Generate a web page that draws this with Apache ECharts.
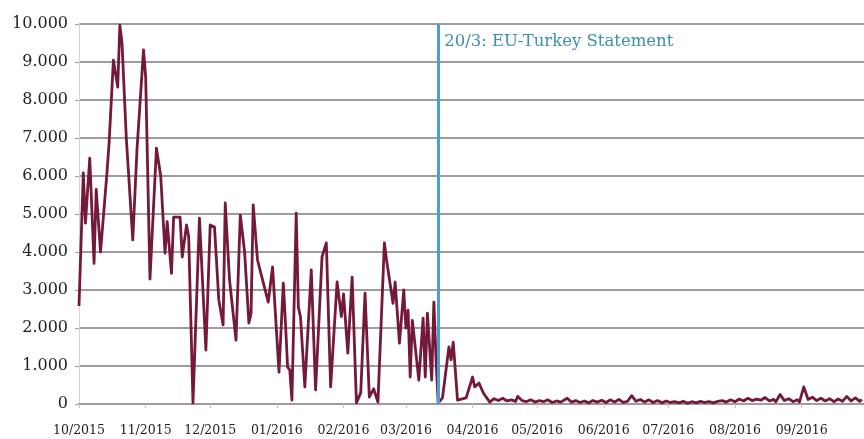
<!DOCTYPE html>
<html>
<head>
<meta charset="utf-8">
<script src="https://cdn.jsdelivr.net/npm/echarts@6/dist/echarts.min.js"></script>
<style>
  html, body { margin: 0; padding: 0; background: #fff; }
  #main { width: 864px; height: 439px; }
</style>
</head>
<body>
<div id="main"></div>
<script>
// days counted from 1 Oct 2015
var dayIndex = [
  0, 2, 3, 5, 7, 8, 10, 13, 14, 16, 18, 19, 20, 22, 25, 27, 30, 31, 33, 36,
  38, 40, 41, 43, 44, 47, 48, 50, 51, 53, 56, 59, 61, 63, 65, 67, 68, 70, 73, 75,
  77, 79, 80, 81, 83, 88, 90, 93, 95, 96, 97, 98, 99, 101, 102, 103, 105, 108, 110, 113,
  115, 117, 120, 122, 123, 125, 127, 129, 131, 133, 135, 137, 139, 142, 143, 146, 147, 149, 151, 152,
  153, 154, 155, 158, 160, 161, 162, 164, 165, 166, 167, 169, 172, 173, 174, 176, 180, 183, 184, 186,
  188, 191, 193, 195, 197, 199, 201, 203, 204, 206, 208, 210, 212, 214, 216, 218, 220, 222, 224, 227,
  229, 231, 233, 235, 237, 239, 241, 243, 245, 247, 249, 251, 253, 255, 257, 259, 261, 263, 265, 267,
  269, 271, 273, 275, 277, 279, 281, 283, 285, 287, 289, 291, 293, 295, 297, 299, 301, 303, 305, 307,
  309, 311, 313, 315, 317, 319, 321, 323, 324, 326, 328, 330, 332, 334, 335, 337, 339, 341, 343, 345,
  347, 349, 351, 353, 355, 357, 359, 361, 363, 364
];
var arrivals = [
  2580, 6080, 4760, 6470, 3700, 5650, 4000, 6080, 6870, 9050, 8340, 9970, 9500, 7000, 4320, 6730, 9320, 8600, 3290, 6730,
  6000, 3970, 4800, 3440, 4920, 4920, 3870, 4710, 4400, 30, 4890, 1420, 4710, 4660, 2740, 2080, 5290, 3260, 1680, 4970,
  4000, 2130, 2390, 5240, 3790, 2680, 3610, 840, 3180, 2130, 970, 900, 100, 5020, 2550, 2290, 450, 3530, 370, 3870,
  4240, 450, 3210, 2300, 2900, 1340, 3340, 30, 300, 2920, 180, 400, 50, 4240, 3790, 2650, 3210, 1600, 3000, 2000,
  2470, 710, 2200, 630, 2260, 710, 2390, 630, 2680, 1200, 30, 160, 1500, 1160, 1630, 100, 160, 710, 450, 550,
  290, 50, 140, 90, 150, 80, 110, 70, 200, 90, 60, 110, 50, 90, 60, 110, 40, 80, 50, 150,
  50, 90, 40, 80, 30, 90, 50, 100, 40, 110, 50, 120, 40, 70, 220, 70, 120, 50, 110, 40,
  90, 30, 80, 40, 60, 30, 70, 20, 60, 30, 70, 40, 60, 30, 70, 90, 50, 110, 60, 130,
  80, 150, 90, 130, 100, 170, 80, 120, 60, 250, 90, 140, 60, 110, 50, 450, 120, 180, 90, 150,
  80, 140, 60, 130, 70, 200, 80, 160, 70, 120
];
var yTicks = [0, 1000, 2000, 3000, 4000, 5000, 6000, 7000, 8000, 9000, 10000];
var statementDay = 167;   // where the blue line stands in the picture
var statementLabel = '20/3: EU-Turkey Statement';

function dayToDate(d) {
  return new Date(2015, 9, 1 + d);
}

var seriesData = dayIndex.map(function (d, i) {
  return [dayToDate(d), arrivals[i]];
});

var myChart = echarts.init(document.getElementById('main'));
var gridColor = '#a29b9b';

var option = {
  animation: false,
  backgroundColor: '#ffffff',
  grid: { left: 79, right: 0, top: 24, bottom: 35 },
  xAxis: {
    type: 'time',
    min: dayToDate(0),
    max: dayToDate(365),
    minInterval: 28 * 86400000,
    maxInterval: 31 * 86400000,
    axisLine: { show: true, lineStyle: { color: gridColor, width: 2 } },
    axisTick: { show: true, length: 4, lineStyle: { color: '#c8c4c4' } },
    splitLine: { show: false },
    axisLabel: {
      formatter: '{MM}/{yyyy}',
      color: '#222',
      fontFamily: 'DejaVu Serif',
      fontSize: 12.5,
      margin: 20,
      hideOverlap: false
    }
  },
  yAxis: {
    type: 'value',
    min: yTicks[0],
    max: yTicks[yTicks.length - 1],
    interval: 1000,
    axisLine: { show: true, lineStyle: { color: '#d6d2d2' } },
    axisTick: { show: true, length: 4, lineStyle: { color: gridColor } },
    splitLine: { show: true, lineStyle: { color: gridColor, width: 2 } },
    axisLabel: {
      color: '#222',
      fontFamily: 'DejaVu Serif',
      fontSize: 16,
      margin: 11,
      formatter: function (v) {
        return String(v).replace(/\B(?=(\d{3})+(?!\d))/g, '.');
      }
    }
  },
  series: [{
    type: 'line',
    data: seriesData,
    showSymbol: false,
    symbol: 'none',
    lineStyle: { color: '#74193a', width: 2.8, join: 'round' },
    markLine: {
      silent: true,
      symbol: ['none', 'none'],
      label: { show: false },
      lineStyle: { color: '#4a9fd8', width: 3, type: 'solid' },
      data: [{ xAxis: dayToDate(statementDay) }]
    }
  }]
};

myChart.setOption(option);

// annotation text next to the statement line
var lineX = myChart.convertToPixel({ xAxisIndex: 0 }, dayToDate(statementDay));
myChart.setOption({
  graphic: [{
    type: 'text',
    left: lineX + 6,
    top: 33,
    style: {
      text: statementLabel,
      fill: '#3d8fb2',
      font: '16.5px "DejaVu Serif"'
    }
  }]
});
</script>
</body>
</html>
